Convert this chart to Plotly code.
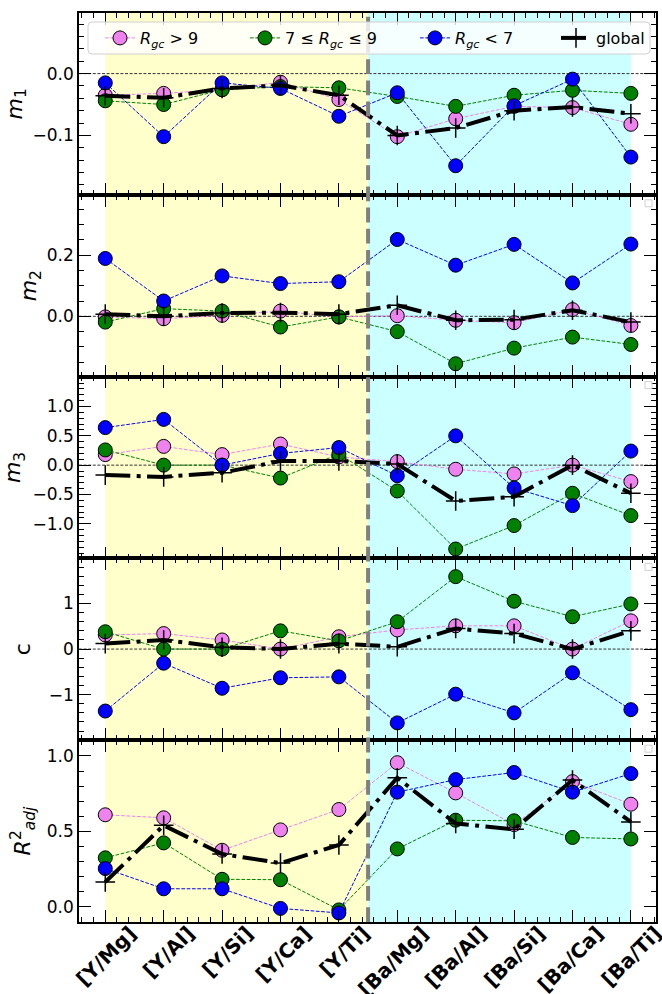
import numpy as np
import plotly.graph_objects as go
from plotly.subplots import make_subplots

categories = ["[Y/Mg]", "[Y/Al]", "[Y/Si]", "[Y/Ca]", "[Y/Ti]",
              "[Ba/Mg]", "[Ba/Al]", "[Ba/Si]", "[Ba/Ca]", "[Ba/Ti]"]

# panel 1 : m1
m1_outer = [-0.035, -0.032, -0.026, -0.014, -0.042, -0.102, -0.073, -0.053, -0.055, -0.082]
m1_mid = [-0.044, -0.050, -0.026, -0.021, -0.023, -0.037, -0.053, -0.035, -0.027, -0.032]
m1_inner = [-0.015, -0.102, -0.015, -0.024, -0.069, -0.031, -0.149, -0.052, -0.009, -0.135]
m1_global = [-0.036, -0.039, -0.024, -0.019, -0.035, -0.100, -0.088, -0.060, -0.054, -0.065]

# panel 2 : m2
m2_outer = [-0.002, -0.008, 0.003, 0.017, -0.002, 0.002, -0.013, -0.021, 0.022, -0.030]
m2_mid = [-0.019, 0.025, 0.017, -0.035, -0.002, -0.050, -0.155, -0.104, -0.068, -0.092]
m2_inner = [0.189, 0.050, 0.132, 0.107, 0.113, 0.251, 0.167, 0.235, 0.109, 0.236]
m2_global = [0.007, 0.0, 0.011, 0.012, 0.007, 0.036, -0.013, -0.011, 0.020, -0.019]

# panel 3 : m3
m3_outer = [0.18, 0.32, 0.18, 0.36, 0.14, 0.06, -0.07, -0.15, 0.0, -0.28]
m3_mid = [0.26, 0.0, 0.0, -0.22, 0.19, -0.44, -1.43, -1.03, -0.48, -0.86]
m3_inner = [0.64, 0.78, 0.0, 0.20, 0.30, -0.18, 0.50, -0.39, -0.69, 0.24]
m3_global = [-0.17, -0.20, -0.13, 0.07, 0.07, 0.02, -0.61, -0.54, 0.0, -0.48]

# panel 4 : c
c_outer = [0.31, 0.34, 0.20, 0.0, 0.27, 0.42, 0.51, 0.51, 0.0, 0.62]
c_mid = [0.38, 0.0, 0.0, 0.40, 0.18, 0.60, 1.59, 1.05, 0.71, 0.99]
c_inner = [-1.36, -0.31, -0.86, -0.63, -0.61, -1.62, -0.99, -1.40, -0.52, -1.33]
c_global = [0.12, 0.20, 0.04, 0.0, 0.12, 0.05, 0.45, 0.34, 0.0, 0.40]

# panel 5 : R2 adj
r2_outer = [0.61, 0.59, 0.375, 0.51, 0.645, 0.955, 0.755, 0.545, 0.83, 0.68]
r2_mid = [0.325, 0.424, 0.183, 0.18, -0.02, 0.384, 0.574, 0.57, 0.46, 0.45]
r2_inner = [0.254, 0.12, 0.12, -0.01, -0.04, 0.76, 0.843, 0.89, 0.76, 0.883]
r2_global = [0.165, 0.54, 0.35, 0.29, 0.41, 0.855, 0.552, 0.514, 0.84, 0.563]

# y tick labels per panel
m1_ticks = [-0.1, 0.0]
m2_ticks = [0.0, 0.2]
m3_ticks = [-1.0, -0.5, 0.0, 0.5, 1.0]
c_ticks = [-1, 0, 1]
r2_ticks = [0.0, 0.5, 1.0]

series_names = ["<i>R</i><sub><i>gc</i></sub> > 9",
                "7 ≤ <i>R</i><sub><i>gc</i></sub> ≤ 9",
                "<i>R</i><sub><i>gc</i></sub> < 7",
                "global"]
series_colors = ["#EE82EE", "#008000", "#0000FF", "black"]

panels = [
    (m1_outer, m1_mid, m1_inner, m1_global),
    (m2_outer, m2_mid, m2_inner, m2_global),
    (m3_outer, m3_mid, m3_inner, m3_global),
    (c_outer, c_mid, c_inner, c_global),
    (r2_outer, r2_mid, r2_inner, r2_global),
]
panel_ticks = [m1_ticks, m2_ticks, m3_ticks, c_ticks, r2_ticks]
tick_fmt = [".1f", ".1f", ".1f", "d", ".1f"]
y_titles = ["<i>m</i><sub>1</sub>", "<i>m</i><sub>2</sub>", "<i>m</i><sub>3</sub>", "c",
            "<i>R</i><sup>2</sup><sub><i>adj</i></sub>"]
y_ranges = [[-0.196, 0.098], [-0.197, 0.397], [-1.59, 1.51], [-2.0, 1.99], [-0.1, 1.104]]
y_minor = [0.02, 0.05, 0.1, 0.2, 0.1]
y_standoff = [4, 4, 6, 12, 10]
zero_line_panels = [1, 2, 3, 4]

W, H = 662, 994
ML, MR, MT, MB = 79, 6, 13, 72
PW, PH = W - ML - MR, H - MT - MB

def px_x(p):
    return (p - ML) / PW

def px_y(p):
    return 1 - (p - MT) / PH

FONT = "DejaVu Sans"
x = list(range(len(categories)))

fig = make_subplots(rows=5, cols=1, shared_xaxes=True, vertical_spacing=0)

legend_ids = ["legend", "legend2", "legend3", "legend4"]
for r, data in enumerate(panels, start=1):
    for k, (vals, name, col) in enumerate(zip(data, series_names, series_colors)):
        if k < 3:
            tr = go.Scatter(
                x=x, y=vals, mode="lines+markers", name=name,
                line=dict(color=col, width=1, dash="3.7px,1.6px"),
                marker=dict(symbol="circle", size=14, color=col,
                            line=dict(color="black", width=1)),
                showlegend=(r == 1), legend=legend_ids[k],
            )
        else:
            tr = go.Scatter(
                x=x, y=vals, mode="lines+markers", name=name,
                line=dict(color="black", width=4, dash="25px,6.4px,4px,6.4px"),
                marker=dict(symbol="cross-thin", size=14, color="black",
                            line=dict(color="black", width=1.5)),
                showlegend=(r == 1), legend=legend_ids[k],
            )
        fig.add_trace(tr, row=r, col=1)

shapes = []
# shaded regions (spanning all panels)
shapes.append(dict(type="rect", xref="x", yref="paper", x0=0, x1=4.5, y0=0, y1=1,
                   fillcolor="rgb(255,255,204)", line=dict(width=0), layer="below"))
shapes.append(dict(type="rect", xref="x", yref="paper", x0=4.5, x1=9, y0=0, y1=1,
                   fillcolor="rgb(204,255,255)", line=dict(width=0), layer="below"))
# zero lines
for r in zero_line_panels:
    yr = "y" if r == 1 else f"y{r}"
    xr = "x domain" if r == 1 else f"x{r} domain"
    shapes.append(dict(type="line", xref=xr, yref=yr, x0=0, x1=1, y0=0, y1=0,
                       line=dict(color="#333333", width=1, dash="3px,1.6px"), layer="below"))
# vertical divider
shapes.append(dict(type="line", xref="x", yref="paper", x0=4.5, x1=4.5, y0=0, y1=1,
                   line=dict(color="#808080", width=4, dash="14.8px,6.4px"), layer="above"))

# legend box (rounded)
bx0, bx1 = px_x(88), px_x(650)
by0, by1 = px_y(54), px_y(22)
rx, ry = 4 / PW, 4 / PH
path = (f"M {bx0+rx},{by0} L {bx1-rx},{by0} Q {bx1},{by0} {bx1},{by0+ry} "
        f"L {bx1},{by1-ry} Q {bx1},{by1} {bx1-rx},{by1} L {bx0+rx},{by1} "
        f"Q {bx0},{by1} {bx0},{by1-ry} L {bx0},{by0+ry} Q {bx0},{by0} {bx0+rx},{by0} Z")
shapes.append(dict(type="path", xref="paper", yref="paper", path=path,
                   fillcolor="rgba(255,255,255,0.8)", line=dict(color="#d0d0d0", width=1),
                   layer="above"))
# tiny empty legend boxes in panels 2-5
for r in [2, 3, 4, 5]:
    shapes.append(dict(type="rect", xref=f"x{r} domain", yref=f"y{r} domain",
                       x0=1 - 11 / PW, x1=1 - 4 / PW, y0=1 - 12 / (PH / 5), y1=1 - 5 / (PH / 5),
                       fillcolor="rgba(255,255,255,0.8)", line=dict(color="#d0d0d0", width=1),
                       layer="above"))

fig.update_layout(shapes=shapes)

# legends positioned individually
text_starts = [142, 287, 457, 598]
leg_y = px_y(38)
for lid, ts in zip(legend_ids, text_starts):
    fig.layout[lid] = dict(x=px_x(ts - 42), xanchor="left", y=leg_y, yanchor="middle",
                           bgcolor="rgba(0,0,0,0)", borderwidth=0,
                           font=dict(family=FONT, size=16, color="black"),
                           orientation="h", itemwidth=30)

for r in range(1, 6):
    lo, hi = y_ranges[r - 1]
    step = y_minor[r - 1]
    minor_vals = [round(v, 4) for v in np.arange(np.ceil(lo / step) * step, hi, step)]
    fig.update_yaxes(
        row=r, col=1, range=y_ranges[r - 1],
        tickmode="array", tickvals=panel_ticks[r - 1],
        tickformat=tick_fmt[r - 1],
        ticks="inside", ticklen=12, tickwidth=1.2, tickcolor="black",
        mirror="allticks", showline=True, linecolor="black", linewidth=1.5,
        showgrid=False, zeroline=False,
        minor=dict(tickmode="array", tickvals=minor_vals, ticks="inside", ticklen=5,
                   tickwidth=1, tickcolor="black", showgrid=False),
        tickfont=dict(family=FONT, size=17, color="black"),
        title=dict(text=y_titles[r - 1], font=dict(family=FONT, size=22, color="black"),
                   standoff=y_standoff[r - 1]),
    )
    fig.update_xaxes(
        row=r, col=1, range=[-0.45, 9.43],
        tickmode="array", tickvals=x, ticktext=categories,
        ticks="inside", ticklen=12, tickwidth=1.2, tickcolor="black",
        mirror="allticks", showline=True, linecolor="black", linewidth=1.5,
        showgrid=False, zeroline=False,
        minor=dict(tickmode="array", tickvals=[round(v, 3) for v in np.arange(-0.4, 9.41, 0.2)
                                               if abs(v - round(v)) > 1e-6],
                   ticks="inside", ticklen=5, tickwidth=1, tickcolor="black", showgrid=False),
    )

fig.update_xaxes(row=5, col=1, tickangle=-45, automargin=False,
                 tickfont=dict(family=FONT, size=20, color="black", weight="bold"),
                 ticklabelshift=25, ticklabelstandoff=-10, ticklabeloverflow="allow")
fig.update_yaxes(automargin=False)

fig.update_layout(
    width=W, height=H,
    margin=dict(l=ML, r=MR, t=MT, b=MB),
    paper_bgcolor="white", plot_bgcolor="white",
    font=dict(family=FONT, color="black"),
)

fig.write_html("out.html", config={"displayModeBar": False},
               post_script="document.body.style.margin='0px';")
